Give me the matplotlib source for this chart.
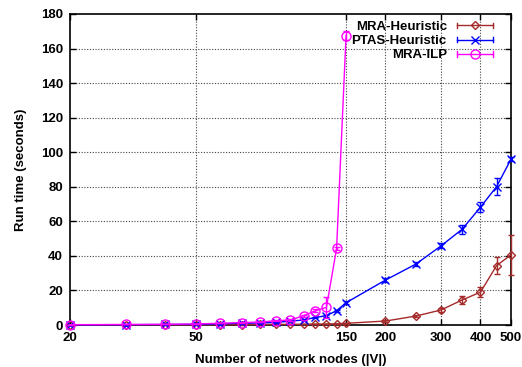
import matplotlib
matplotlib.use('Agg')
from matplotlib import pyplot as plt
from matplotlib.lines import Line2D
from matplotlib.legend_handler import HandlerBase
from matplotlib.container import ErrorbarContainer

plt.rcParams['font.family'] = ['Liberation Sans', 'DejaVu Sans']
plt.rcParams['font.weight'] = 'bold'
plt.rcParams['font.size'] = 9.5

# network sizes
nodes = [20, 30, 40, 50, 60, 70, 80, 90, 100, 110, 120, 130, 140, 150,
         200, 250, 300, 350, 400, 450, 500]
ilp_nodes = [20, 30, 40, 50, 60, 70, 80, 90, 100, 110, 120, 130, 140, 150]

# run times in seconds, with error
mra_heur = [0.05, 0.1, 0.1, 0.15, 0.2, 0.25, 0.3, 0.35, 0.4, 0.45, 0.5, 0.6, 0.7, 1.0,
            2.3, 5.2, 8.7, 14.5, 19.0, 34.4, 40.6]
mra_heur_err = [0, 0, 0, 0, 0, 0, 0, 0, 0.1, 0.1, 0.1, 0.1, 0.1, 0.2,
                0.4, 0.6, 1.0, 2.5, 3.0, 5.0, 11.6]
ptas_heur = [0.1, 0.2, 0.3, 0.4, 0.7, 1.0, 1.2, 1.5, 2.3, 2.9, 4.4, 5.4, 8.3, 12.9,
             26.0, 35.3, 45.8, 55.4, 68.2, 80.1, 96.0]
ptas_heur_err = [0, 0, 0, 0, 0, 0.1, 0.1, 0.1, 0.2, 0.3, 0.4, 0.5, 0.6, 0.8,
                 1.0, 1.0, 1.5, 2.5, 3.0, 5.0, 1.0]
mra_ilp = [0.2, 0.3, 0.4, 0.6, 1.0, 1.4, 1.7, 2.5, 2.9, 5.4, 8.3, 10.2, 44.4, 167.4]
mra_ilp_err = [0, 0, 0, 0.1, 0.1, 0.2, 0.2, 0.3, 0.3, 0.5, 0.8, 6.0, 1.0, 2.5]

xticks = [20, 50, 150, 200, 300, 400, 500]
yticks = [0, 20, 40, 60, 80, 100, 120, 140, 160, 180]


class ErrLineHandler(HandlerBase):
    # horizontal line with end caps and the marker in the middle
    def create_artists(self, legend, orig_handle, xdescent, ydescent,
                       width, height, fontsize, trans):
        ln = orig_handle.lines[0]
        c = ln.get_color()
        y = (height - ydescent) / 2.0
        x0, x1 = -xdescent, -xdescent + width
        cap = 0.3 * height
        arts = [
            Line2D([x0, x1], [y, y], color=c, lw=1),
            Line2D([x0, x0], [y - cap, y + cap], color=c, lw=1),
            Line2D([x1, x1], [y - cap, y + cap], color=c, lw=1),
            Line2D([(x0 + x1) / 2], [y], color=c, marker=ln.get_marker(),
                   ms=ln.get_markersize(), mfc='none', mec=c, mew=1, ls='none'),
        ]
        for a in arts:
            a.set_transform(trans)
        return arts


fig = plt.figure(figsize=(5.22, 3.67), dpi=100)
ax = fig.add_axes([0.134, 0.1144, 0.845, 0.8476])

h1 = ax.errorbar(nodes, mra_heur, yerr=mra_heur_err, color='#a52a2a', marker='D', ms=4.5,
                 mfc='none', mew=1, lw=1, capsize=2.5, elinewidth=1, label='MRA-Heuristic',
                 clip_on=False, zorder=3)
h2 = ax.errorbar(nodes, ptas_heur, yerr=ptas_heur_err, color='#0000ff', marker='x', ms=6,
                 mew=1, lw=1, capsize=2.5, elinewidth=1, label='PTAS-Heuristic',
                 clip_on=False, zorder=4)
h3 = ax.errorbar(ilp_nodes, mra_ilp, yerr=mra_ilp_err, color='#ff00ff', marker='o', ms=6.5,
                 mfc='none', mew=1, lw=1, capsize=2.5, elinewidth=1, label='MRA-ILP',
                 clip_on=False, zorder=5)

ax.set_xscale('log')
ax.set_xlim(20, 500)
ax.set_ylim(0, 180)
ax.set_xticks(xticks)
ax.set_xticklabels([str(t) for t in xticks])
ax.minorticks_off()
ax.set_yticks(yticks)
ax.tick_params(direction='in', length=4, width=1, top=True, right=True, labelsize=9.5, pad=5)

# dotted grid at the inner ticks
for t in xticks[1:-1]:
    ax.axvline(t, color='#444444', lw=0.8, ls=(0, (1, 1.5)), zorder=1)
for t in yticks[1:-1]:
    ax.axhline(t, color='#444444', lw=0.8, ls=(0, (1, 1.5)), zorder=1)

for s in ax.spines.values():
    s.set_linewidth(1.2)

ax.set_xlabel('Number of network nodes (|V|)', fontweight='bold', labelpad=7)
ax.set_ylabel('Run time (seconds)', fontweight='bold', labelpad=10)

ax.legend(handles=[h1, h2, h3], handler_map={ErrorbarContainer: ErrLineHandler()},
          loc='upper right', bbox_to_anchor=(0.959, 0.978), frameon=False,
          markerfirst=False, handlelength=2.7, handletextpad=0.8,
          labelspacing=0.15, borderpad=0, borderaxespad=0, fontsize=9.5)

fig.savefig('out.png', dpi=100)
